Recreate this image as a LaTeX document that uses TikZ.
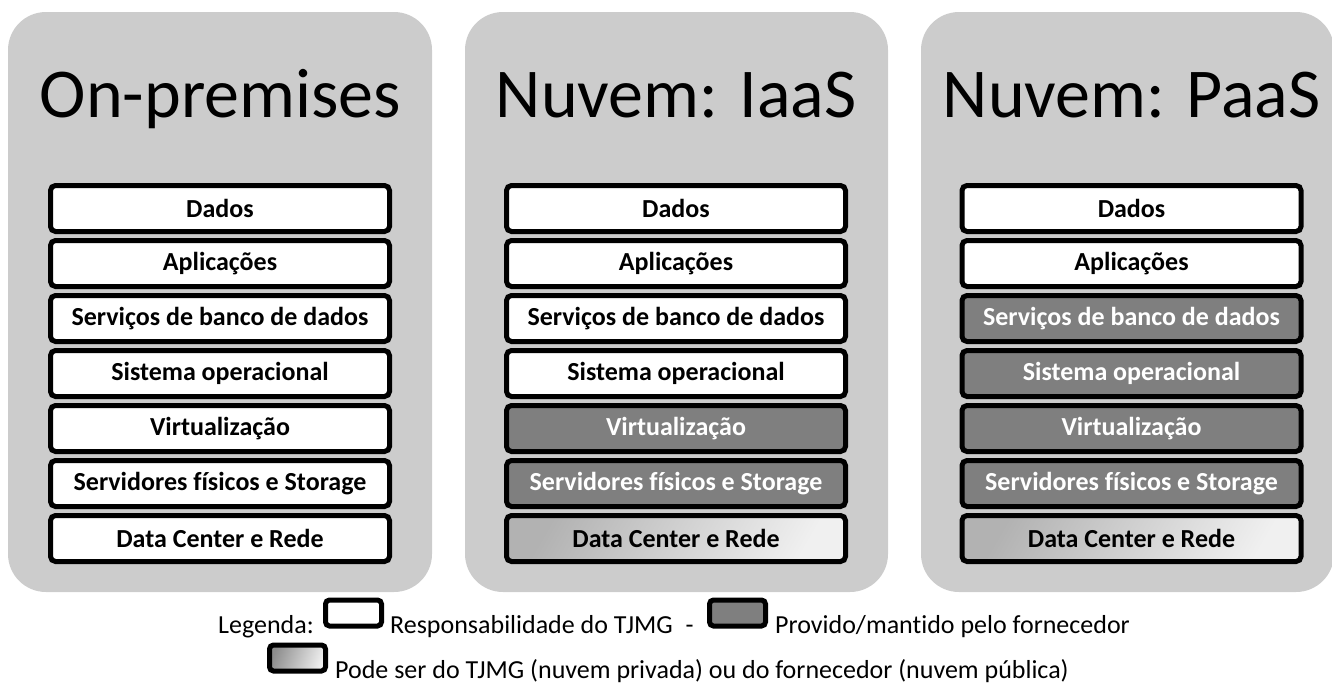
\documentclass[tikz,border=0pt]{standalone}
\usepackage{fontspec}
\setmainfont[Ligatures={NoCommon}]{Carlito}
\definecolor{panelgray}{HTML}{CCCCCC}
\definecolor{provgray}{HTML}{7F7F7F}
\begin{document}
\begin{tikzpicture}[x=1pt,y=-1pt,
  panel/.style={fill=panelgray,draw=none,rounded corners=38pt},
  title/.style={font=\fontsize{70}{70}\selectfont,anchor=base,inner sep=0pt},
  layer/.style={draw=black,line width=5pt,rounded corners=5pt,minimum width=339pt,minimum height=46pt,inner sep=0pt,font=\fontsize{26}{26}\selectfont\bfseries},
  own/.style={layer,fill=white,text=black},
  prov/.style={layer,fill=provgray,text=white},
  mixed/.style={layer,left color=black!30,right color=white!94!black,shading angle=60,text=black},
  legbox/.style={draw=black,line width=5pt,rounded corners=4pt,minimum width=56pt,minimum height=26pt,inner sep=0pt},
  legtext/.style={font=\fontsize{26}{26}\selectfont,anchor=base west,inner sep=0pt}]
\useasboundingbox (0,0) rectangle (1332,683);
% panels
\fill[panel] (8,12) rectangle (432,592);
\fill[panel] (465,12) rectangle (888,592);
\begin{scope}
\clip (0,0) rectangle (1332,683);
\fill[panel] (921,12) rectangle (1334,592);
\end{scope}
% titles
\node[title] (t1) at (220.5,117) {On-premises};
\node[title] (t2) at (676,117) {Nuvem: IaaS};
\node[title] (t3) at (1131.5,117) {Nuvem: PaaS};
% column 1
\node[own] (a1) at (220,208.5) {Dados};
\node[own] (a2) at (220,263.5) {Aplicações};
\node[own] (a3) at (220,318.5) {Serviços de banco de dados};
\node[own] (a4) at (220,373.5) {Sistema operacional};
\node[own] (a5) at (220,428.5) {Virtualização};
\node[own] (a6) at (220,483.5) {Servidores físicos e Storage};
\node[own] (a7) at (220,538.5) {Data Center e Rede};
% column 2
\node[own] (b1) at (676,208.5) {Dados};
\node[own] (b2) at (676,263.5) {Aplicações};
\node[own] (b3) at (676,318.5) {Serviços de banco de dados};
\node[own] (b4) at (676,373.5) {Sistema operacional};
\node[prov] (b5) at (676,428.5) {Virtualização};
\node[prov] (b6) at (676,483.5) {Servidores físicos e Storage};
\node[mixed] (b7) at (676,538.5) {Data Center e Rede};
% column 3
\node[own] (c1) at (1131.5,208.5) {Dados};
\node[own] (c2) at (1131.5,263.5) {Aplicações};
\node[prov] (c3) at (1131.5,318.5) {Serviços de banco de dados};
\node[prov] (c4) at (1131.5,373.5) {Sistema operacional};
\node[prov] (c5) at (1131.5,428.5) {Virtualização};
\node[prov] (c6) at (1131.5,483.5) {Servidores físicos e Storage};
\node[mixed] (c7) at (1131.5,538.5) {Data Center e Rede};
% legend
\node[legtext] (lg) at (218,633) {Legenda:};
\node[legbox,fill=white] (l1) at (353.5,613) {};
\node[legtext] (lt1) at (390,633) {Responsabilidade do TJMG\enspace -};
\node[legbox,fill=provgray] (l2) at (737.5,613) {};
\node[legtext] (lt2) at (775,633) {Provido/mantido pelo fornecedor};
\node[legbox,left color=black!45,right color=white!94!black,shading angle=70] (l3) at (297.5,658) {};
\node[legtext] (lt3) at (335,678) {Pode ser do TJMG (nuvem privada) ou do fornecedor (nuvem pública)};
\end{tikzpicture}
\end{document}
